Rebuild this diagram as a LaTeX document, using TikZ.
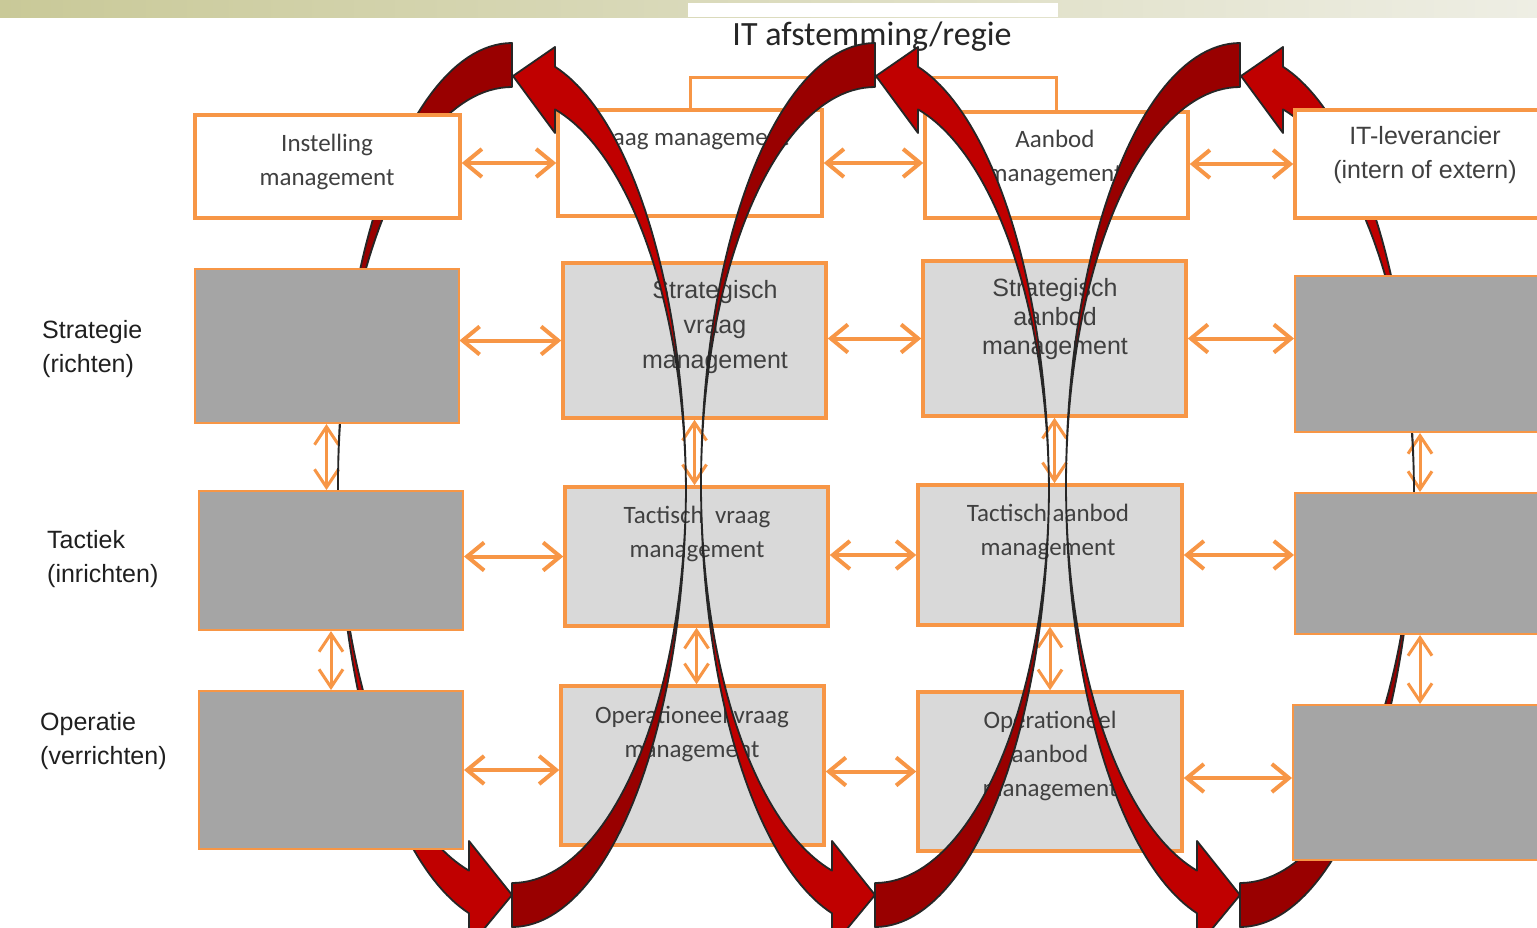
\documentclass[tikz,border=0pt]{standalone}
\usepackage{fontspec}
\setmainfont{Liberation Sans}
\newfontfamily\calib{Carlito}
\usetikzlibrary{arrows.meta,positioning,calc}

\definecolor{ora}{HTML}{F79646}
\definecolor{lgray}{HTML}{D9D9D9}
\definecolor{dgray}{HTML}{A5A5A5}
\definecolor{bandRed}{HTML}{C00000}
\definecolor{bandDark}{HTML}{990000}
\definecolor{bandline}{HTML}{262626}
\definecolor{txtgray}{HTML}{404040}
\definecolor{bannerL}{RGB}{201,201,152}
\definecolor{bannerR}{RGB}{238,238,228}

\newcommand\arialtxt{\fontsize{25}{34}\selectfont}
\newcommand\calibtxt{\calib\fontsize{25}{34}\selectfont}
\newcommand\titeltxt{\calib\fontsize{34}{40}\selectfont}

\pgfdeclarelayer{back}
\pgfdeclarelayer{mid}
\pgfsetlayers{back,mid,main}

\tikzset{
  box/.style={draw=ora, line width=3.5pt, minimum width=263pt, minimum height=155pt, inner sep=0pt},
  whitebox/.style={box, fill=white},
  lgbox/.style={box, fill=lgray},
  dgbox/.style={draw=ora, line width=2pt, fill=dgray, minimum width=264pt, inner sep=0pt},
  txt/.style={inner sep=0pt, align=center, text=txtgray, font=\arialtxt},
  ctxt/.style={txt, font=\calibtxt},
  rowlab/.style={txt, align=left, anchor=west, text=black!88},
  harr/.style={draw=ora, line width=4pt, >={Straight Barb[length=17pt,width=28pt]}, <->},
  varr/.style={draw=ora, line width=3pt, >={Straight Barb[length=18pt,width=24pt]}, <->},
  band/.style={draw=bandline, line width=1.8pt, line join=round},
}

\begin{document}
\begin{tikzpicture}[x=1pt, y=-1pt] % regie over vraag en aanbod
\useasboundingbox (0,0) rectangle (1537,927);

\begin{pgfonlayer}{back}
% balk en titel
\shade[left color=bannerL, right color=bannerR] (0,0) rectangle (1537,17);
\fill[white] (688,3) rectangle (1058,17);
\node[font=\titeltxt, text=black!85, inner sep=0pt] (titel) at (872,37) {IT afstemming/regie};

% vraag- en aanbodkolom
\node[whitebox, minimum width=264pt, minimum height=106pt] (vraag) at (690,163) {};
\node[whitebox, minimum height=106pt] (aanbod) at (1056.5,165) {};
\node[lgbox] (sV) at (694.5,340.5) {};
\node[lgbox] (sA) at (1054.5,338.5) {};
\node[lgbox, minimum height=139pt] (tV) at (696.5,556.5) {};
\node[lgbox, minimum width=264pt, minimum height=140pt] (tA) at (1050,555) {};
\node[lgbox, minimum height=159pt] (oV) at (692.5,765.5) {};
\node[lgbox, minimum width=264pt, minimum height=159pt] (oA) at (1050,771.5) {};

\node[ctxt] (vraagT) at (690,140) {Vraag management};
\node[ctxt] (aanbodT) at (1055,158) {Aanbod\\management};
\node[txt, font={\fontsize{25}{35}\selectfont}] (sVT) at (715,327) {Strategisch\\vraag\\management};
\node[txt, font={\fontsize{25}{29}\selectfont}] (sAT) at (1055,319) {Strategisch\\aanbod\\management};
\node[ctxt] (tVT) at (697,534) {Tactisch\ \ vraag\\management};
\node[ctxt] (tAT) at (1048,531.5) {Tactisch aanbod\\management};
\node[ctxt] (oVT) at (692,733.5) {Operationeel vraag\\management};
\node[ctxt] (oAT) at (1050,756) {Operationeel\\aanbod\\management};

\draw[ora, line width=3pt] (vraag.north) -- ++(0,-31) -| (aanbod.north);
\end{pgfonlayer}

% instelling en leverancier
\node[whitebox, minimum width=265pt, minimum height=103pt] (inst) at (327.5,166.5) {};
\node[whitebox, minimum width=250pt, minimum height=108pt] (lev) at (1420,164) {};
\node[dgbox, minimum height=154pt] (sL) at (326.5,346) {};
\node[dgbox, minimum width=250pt, minimum height=156pt] (sR) at (1420,354) {};
\node[dgbox, minimum height=139pt] (tL) at (331,560.5) {};
\node[dgbox, minimum width=250pt, minimum height=141pt] (tR) at (1420,563.5) {};
\node[dgbox, minimum height=158pt] (oL) at (331,770) {};
\node[dgbox, minimum width=252pt, minimum height=155pt] (oR) at (1419,782.5) {};

\node[ctxt] (instT) at (327,161.5) {Instelling\\management};
\node[txt] (levT) at (1425,155.5) {IT-leverancier\\(intern of extern)};

\node[rowlab] (lStrat) at (42,349) {Strategie\\(richten)};
\node[rowlab] (lTact) at (47,559) {Tactiek\\(inrichten)};
\node[rowlab] (lOper) at (40,741.5) {Operatie\\(verrichten)};

\begin{pgfonlayer}{back}
\draw[harr] (inst.east |- vraag.west) -- (vraag.west);
\draw[harr] (vraag.east) -- (aanbod.west |- vraag.east);
\draw[harr] (aanbod.east |- lev.west) -- (lev.west);
\draw[harr] (sL.east |- sV.west) -- (sV.west);
\draw[harr] (sV.east |- sA.west) -- (sA.west);
\draw[harr] (sA.east) -- (sR.west |- sA.east);
\draw[harr] (tL.east |- tV.west) -- (tV.west);
\draw[harr] (tV.east |- tA.west) -- (tA.west);
\draw[harr] (tA.east) -- (tR.west |- tA.east);
\draw[harr] (oL.east) -- (oV.west |- oL.east);
\draw[harr] (oV.east |- oA.west) -- (oA.west);
\draw[harr] ([yshift=-6.5pt]oA.east) -- ([yshift=-6.5pt]oA.east -| oR.west);
\foreach \a/\b in {sL/tL, tL/oL, sV/tV, tV/oV, sA/tA, tA/oA, sR/tR, tR/oR}
  \draw[varr] (\a.south) -- (\a.south |- \b.north);
\end{pgfonlayer}

% rode kringlopen
\begin{pgfonlayer}{mid}
\foreach \cx in {512,875,1240}{
  \filldraw[band, fill=bandDark] plot[domain=-90:-180, samples=50] ({\cx+174*cos(\x)},{485+442*sin(\x)})
    -- plot[domain=-180:-90, samples=50] ({\cx+174*cos(\x)},{485+398*sin(\x)}) -- cycle;
  \filldraw[band, fill=bandRed] plot[domain=180:104.3, samples=50] ({\cx+174*cos(\x)},{485+442*sin(\x)})
    -- (\cx-43,947) -- (\cx,895) -- (\cx-43,841)
    -- plot[domain=104.3:180, samples=50] ({\cx+174*cos(\x)},{485+398*sin(\x)}) -- cycle;
  \filldraw[band, fill=bandDark] plot[domain=90:0, samples=50] ({\cx+174*cos(\x)},{485+442*sin(\x)})
    -- plot[domain=0:90, samples=50] ({\cx+174*cos(\x)},{485+398*sin(\x)}) -- cycle;
  \filldraw[band, fill=bandRed] plot[domain=0:-75.7, samples=50] ({\cx+174*cos(\x)},{495+442*sin(\x)})
    -- (\cx+43,47) -- (\cx+1,76) -- (\cx+43,133)
    -- plot[domain=-75.7:0, samples=50] ({\cx+174*cos(\x)},{495+398*sin(\x)}) -- cycle;
}
\end{pgfonlayer}
\end{tikzpicture}
\end{document}
